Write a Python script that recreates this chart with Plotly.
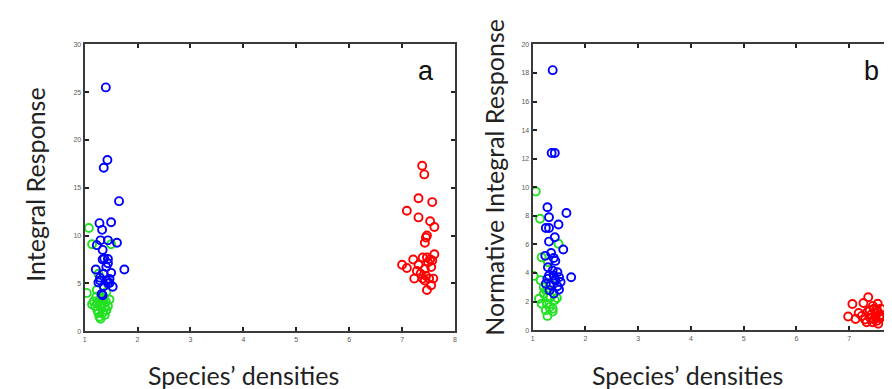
import plotly.graph_objects as go

# ---------------- Panel a data ----------------
a_blue_x = [1.40, 1.43, 1.36, 1.65, 1.28, 1.50, 1.33, 1.30, 1.44, 1.61, 1.23, 1.34, 1.34, 1.44, 1.44,
            1.41, 1.75, 1.21, 1.36, 1.50, 1.29, 1.47, 1.41, 1.26, 1.44, 1.36, 1.53, 1.47, 1.32, 1.34,
            1.29, 1.37]
a_blue_y = [25.5, 17.9, 17.1, 13.6, 11.3, 11.4, 10.6, 9.5, 9.5, 9.25, 9.0, 8.5, 7.5, 7.55, 7.1,
            6.7, 6.45, 6.45, 6.0, 6.1, 5.3, 5.45, 5.3, 5.1, 5.0, 4.7, 4.65, 5.05, 3.9, 3.75,
            5.6, 7.6]
a_green_x = [1.08, 1.14, 1.50, 1.26, 1.04, 1.23, 1.41, 1.47, 1.30, 1.26, 1.20, 1.24, 1.32, 1.38,
             1.41, 1.34, 1.17, 1.29, 1.35, 1.22, 1.32, 1.24, 1.40, 1.14, 1.38, 1.28, 1.44, 1.33]
a_green_y = [10.8, 9.1, 9.1, 6.0, 4.0, 4.3, 4.1, 3.3, 1.3, 1.9, 2.6, 2.9, 2.4, 2.6,
             2.2, 1.9, 3.1, 3.4, 3.2, 3.6, 2.9, 2.2, 3.1, 2.8, 1.7, 1.5, 2.6, 3.5]
a_red_x = [7.38, 7.42, 7.31, 7.57, 7.09, 7.31, 7.53, 7.61, 7.47, 7.45, 7.43, 7.61, 7.21, 7.39,
           7.47, 7.53, 7.00, 7.09, 7.31, 7.43, 7.55, 7.28, 7.45, 7.51, 7.59, 7.39, 7.23, 7.55,
           7.47, 7.43, 7.35, 7.49, 7.57]
a_red_y = [17.3, 16.4, 13.9, 13.5, 12.6, 11.9, 11.5, 10.9, 10.0, 9.8, 9.25, 8.05, 7.5, 7.7,
           7.7, 7.5, 6.95, 6.6, 6.95, 6.5, 6.7, 6.3, 5.8, 5.5, 5.5, 5.5, 5.5, 4.8,
           4.3, 5.3, 6.0, 7.2, 7.4]

# ---------------- Panel b data ----------------
b_blue_x = [1.38, 1.36, 1.42, 1.28, 1.64, 1.31, 1.25, 1.31, 1.49, 1.42, 1.31, 1.58, 1.35, 1.24,
            1.40, 1.43, 1.73, 1.29, 1.38, 1.47, 1.31, 1.40, 1.50, 1.28, 1.43, 1.53, 1.34, 1.47,
            1.50, 1.32, 1.40, 1.25]
b_blue_y = [18.2, 12.4, 12.4, 8.6, 8.2, 7.9, 7.15, 7.15, 7.4, 6.5, 6.2, 5.65, 5.4, 5.2,
            5.05, 4.85, 3.7, 4.4, 4.17, 4.05, 3.83, 3.83, 3.7, 3.6, 3.48, 3.37, 3.14, 3.07,
            2.84, 2.8, 2.56, 3.25]
b_green_x = [1.06, 1.14, 1.49, 1.02, 1.29, 1.17, 1.28, 1.25, 1.17, 1.12, 1.21, 1.28, 1.34, 1.42,
             1.46, 1.27, 1.32, 1.38, 1.21, 1.15, 1.28, 1.25, 1.34, 1.38]
b_green_y = [9.7, 7.8, 6.05, 3.8, 4.75, 5.1, 1.0, 1.4, 1.85, 2.2, 2.55, 2.8, 2.3, 2.1,
             2.25, 1.85, 1.6, 1.5, 3.0, 3.5, 2.3, 2.8, 3.25, 1.3]
b_red_x = [7.06, 7.36, 7.27, 7.54, 6.98, 7.12, 7.35, 7.42, 7.50, 7.55, 7.47, 7.40, 7.52, 7.44,
           7.58, 7.24, 7.18, 7.30, 7.52, 7.58, 7.47, 7.39, 7.33, 7.55, 7.45, 7.60, 7.50, 7.62]
b_red_y = [1.83, 2.3, 1.9, 1.85, 0.96, 0.78, 1.3, 1.1, 0.95, 1.25, 1.5, 0.85, 0.65, 0.55,
           0.85, 1.0, 1.2, 0.75, 1.45, 1.05, 0.75, 1.4, 0.55, 0.45, 1.7, 1.5, 1.2, 1.0]

a_yticks = [0, 5, 10, 15, 20, 25, 30]
b_yticks = [0, 2, 4, 6, 8, 10, 12, 14, 16, 18, 20]
x_ticks = [1, 2, 3, 4, 5, 6, 7, 8]

BLUE, GREEN, RED = "#0000ff", "#22e022", "#ff0000"
W, H = 892, 389
FONT = "Lato"


def mk(x, y, color, xa, ya):
    return go.Scatter(x=x, y=y, mode="markers", xaxis=xa, yaxis=ya, showlegend=False,
                      marker=dict(symbol="circle-open", size=8, color=color,
                                  line=dict(width=1.9, color=color)))


fig = go.Figure()
fig.add_trace(mk(a_green_x, a_green_y, GREEN, "x", "y"))
fig.add_trace(mk(a_blue_x, a_blue_y, BLUE, "x", "y"))
fig.add_trace(mk(a_red_x, a_red_y, RED, "x", "y"))
fig.add_trace(mk(b_green_x, b_green_y, GREEN, "x2", "y2"))
fig.add_trace(mk(b_blue_x, b_blue_y, BLUE, "x2", "y2"))
fig.add_trace(mk(b_red_x, b_red_y, RED, "x2", "y2"))

axis_common = dict(showgrid=False, zeroline=False, showline=True, linewidth=2, linecolor="#3a3a3a",
                   mirror="ticks", ticks="inside", ticklen=4, tickwidth=1.5, tickcolor="#222",
                   tickfont=dict(size=7, color="#5a5a5a", family="Liberation Sans"))

fig.update_layout(
    width=W, height=H, margin=dict(l=0, r=0, t=0, b=0),
    paper_bgcolor="white", plot_bgcolor="white",
    xaxis=dict(domain=[75 / W, 447 / W], range=[1, 8], tickvals=x_ticks, anchor="y", **axis_common),
    yaxis=dict(domain=[(H - 325) / H, (H - 33) / H], range=[0, 30], tickvals=a_yticks, anchor="x",
               **axis_common),
    xaxis2=dict(domain=[525 / W, 890 / W], range=[1, 1 + 365 / 53.0], tickvals=x_ticks, anchor="y2",
                **axis_common),
    yaxis2=dict(domain=[(H - 324) / H, (H - 33) / H], range=[0, 20], tickvals=b_yticks, anchor="x2",
                **axis_common),
)

tf = dict(family=FONT, color="#222")
ann = [
    dict(x=25 / W, y=1 - 176 / H, text="Integral Response", textangle=-90, font=dict(size=25, **tf)),
    dict(x=486 / W, y=1 - 168 / H, text="Normative Integral Response", textangle=-90,
         font=dict(size=25, **tf)),
    dict(x=235 / W, y=1 - 370 / H, text="Species’ densities", font=dict(size=25, **tf)),
    dict(x=681 / W, y=1 - 370 / H, text="Species’ densities", font=dict(size=25, **tf)),
    dict(x=418 / W, y=1 - 60 / H, text="a", font=dict(size=27, family="Liberation Sans", color="#111")),
    dict(x=865 / W, y=1 - 60 / H, text="b", font=dict(size=27, family="Liberation Sans", color="#111")),
]
for a in ann:
    a.update(xref="paper", yref="paper", showarrow=False, xanchor="center", yanchor="middle")
fig.update_layout(annotations=ann)

fig.write_html("out.html")
